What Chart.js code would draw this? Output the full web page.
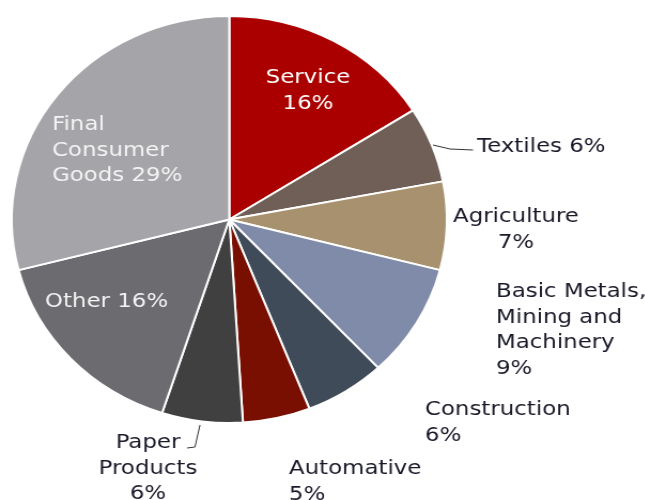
<!DOCTYPE html>
<html>
<head>
<meta charset="utf-8">
<script src="https://cdn.jsdelivr.net/npm/chart.js@4.4.1/dist/chart.umd.min.js"></script>
<style>
  html, body { margin: 0; padding: 0; background: #fff; overflow: hidden; }
  #wrap { width: 603px; height: 500px; transform: scaleX(1.069); transform-origin: 0 0; }
</style>
</head>
<body>
<div id="wrap"><canvas id="pie" width="603" height="500"></canvas></div>
<script>
// sector shares, clockwise from 12 o'clock
const categories = ["Service", "Textiles", "Agriculture", "Basic Metals, Mining and Machinery",
  "Construction", "Automative", "Paper Products", "Other", "Final Consumer Goods"];
const shares = [16, 6, 7, 9, 6, 5, 6, 16, 29];
const sliceColors = ["#aa0000", "#6f5f56", "#a8916f", "#7f8ba8", "#404b5a",
  "#780f00", "#404040", "#6b6b70", "#a5a4a8"];

const STRETCH = 1.069;   // horizontal stretch of the wrapper
const TEXT_SCALE = 1.07; // extra width for the label font

// label layout in page pixels: wrapped name, percent on own line?, anchor, alignment
const labelLayout = [
  { name: ["Service"], own: true, x: 308, y: 83, align: "center", color: "#ffffff" },
  { name: ["Textiles"], own: false, x: 477, y: 152, align: "left", color: "#1a1a2a" },
  { name: ["Agriculture"], own: true, x: 516, y: 222, align: "center", color: "#1a1a2a" },
  { name: ["Basic Metals,", "Mining and", "Machinery"], own: true, x: 496, y: 297, align: "left", color: "#1a1a2a" },
  { name: ["Construction"], own: true, x: 425, y: 415, align: "left", color: "#1a1a2a" },
  { name: ["Automative"], own: true, x: 289, y: 474, align: "left", color: "#1a1a2a" },
  { name: ["Paper", "Products"], own: true, x: 148, y: 448, align: "center", color: "#1a1a2a" },
  { name: ["Other"], own: false, x: 45, y: 307, align: "left", color: "#f4f4f4" },
  { name: ["Final", "Consumer", "Goods"], own: false, x: 52, y: 130, align: "left", color: "#f4f4f4" }
];
const LINE_H = 25.5;

// short connector lines for the two outside labels that sit off the slice
const leaders = [
  [[433, 145], [450, 149], [473, 150]],
  [[200, 425], [195, 447], [187, 448]]
];

const sliceLabels = {
  id: "sliceLabels",
  afterDraw(chart) {
    const ctx = chart.ctx;
    ctx.save();
    ctx.strokeStyle = "#333333";
    ctx.lineWidth = 1;
    leaders.forEach(pts => {
      ctx.beginPath();
      pts.forEach((p, i) => {
        const px = p[0] / STRETCH;
        if (i === 0) ctx.moveTo(px, p[1]); else ctx.lineTo(px, p[1]);
      });
      ctx.stroke();
    });

    ctx.font = "20px 'DejaVu Sans', Verdana, sans-serif";
    ctx.textBaseline = "alphabetic";
    labelLayout.forEach((lab, i) => {
      const pct = shares[i] + "%";
      const lines = lab.name.slice();
      if (lab.own) lines.push(pct);
      else lines[lines.length - 1] += " " + pct;
      ctx.fillStyle = lab.color;
      ctx.textAlign = lab.align;
      lines.forEach((t, k) => {
        ctx.save();
        ctx.translate(lab.x / STRETCH, lab.y + k * LINE_H);
        ctx.scale(TEXT_SCALE, 1);
        ctx.fillText(t, 0, 0);
        ctx.restore();
      });
    });
    ctx.restore();
  }
};

new Chart(document.getElementById("pie"), {
  type: "pie",
  data: {
    labels: categories,
    datasets: [{
      data: shares,
      backgroundColor: sliceColors,
      borderColor: "#ffffff",
      borderWidth: 2
    }]
  },
  options: {
    responsive: false,
    animation: false,
    events: [],
    layout: { padding: { top: 15, bottom: 76, left: 10, right: 184 } },
    plugins: {
      legend: { display: false },
      tooltip: { enabled: false }
    }
  },
  plugins: [sliceLabels]
});
</script>
</body>
</html>
